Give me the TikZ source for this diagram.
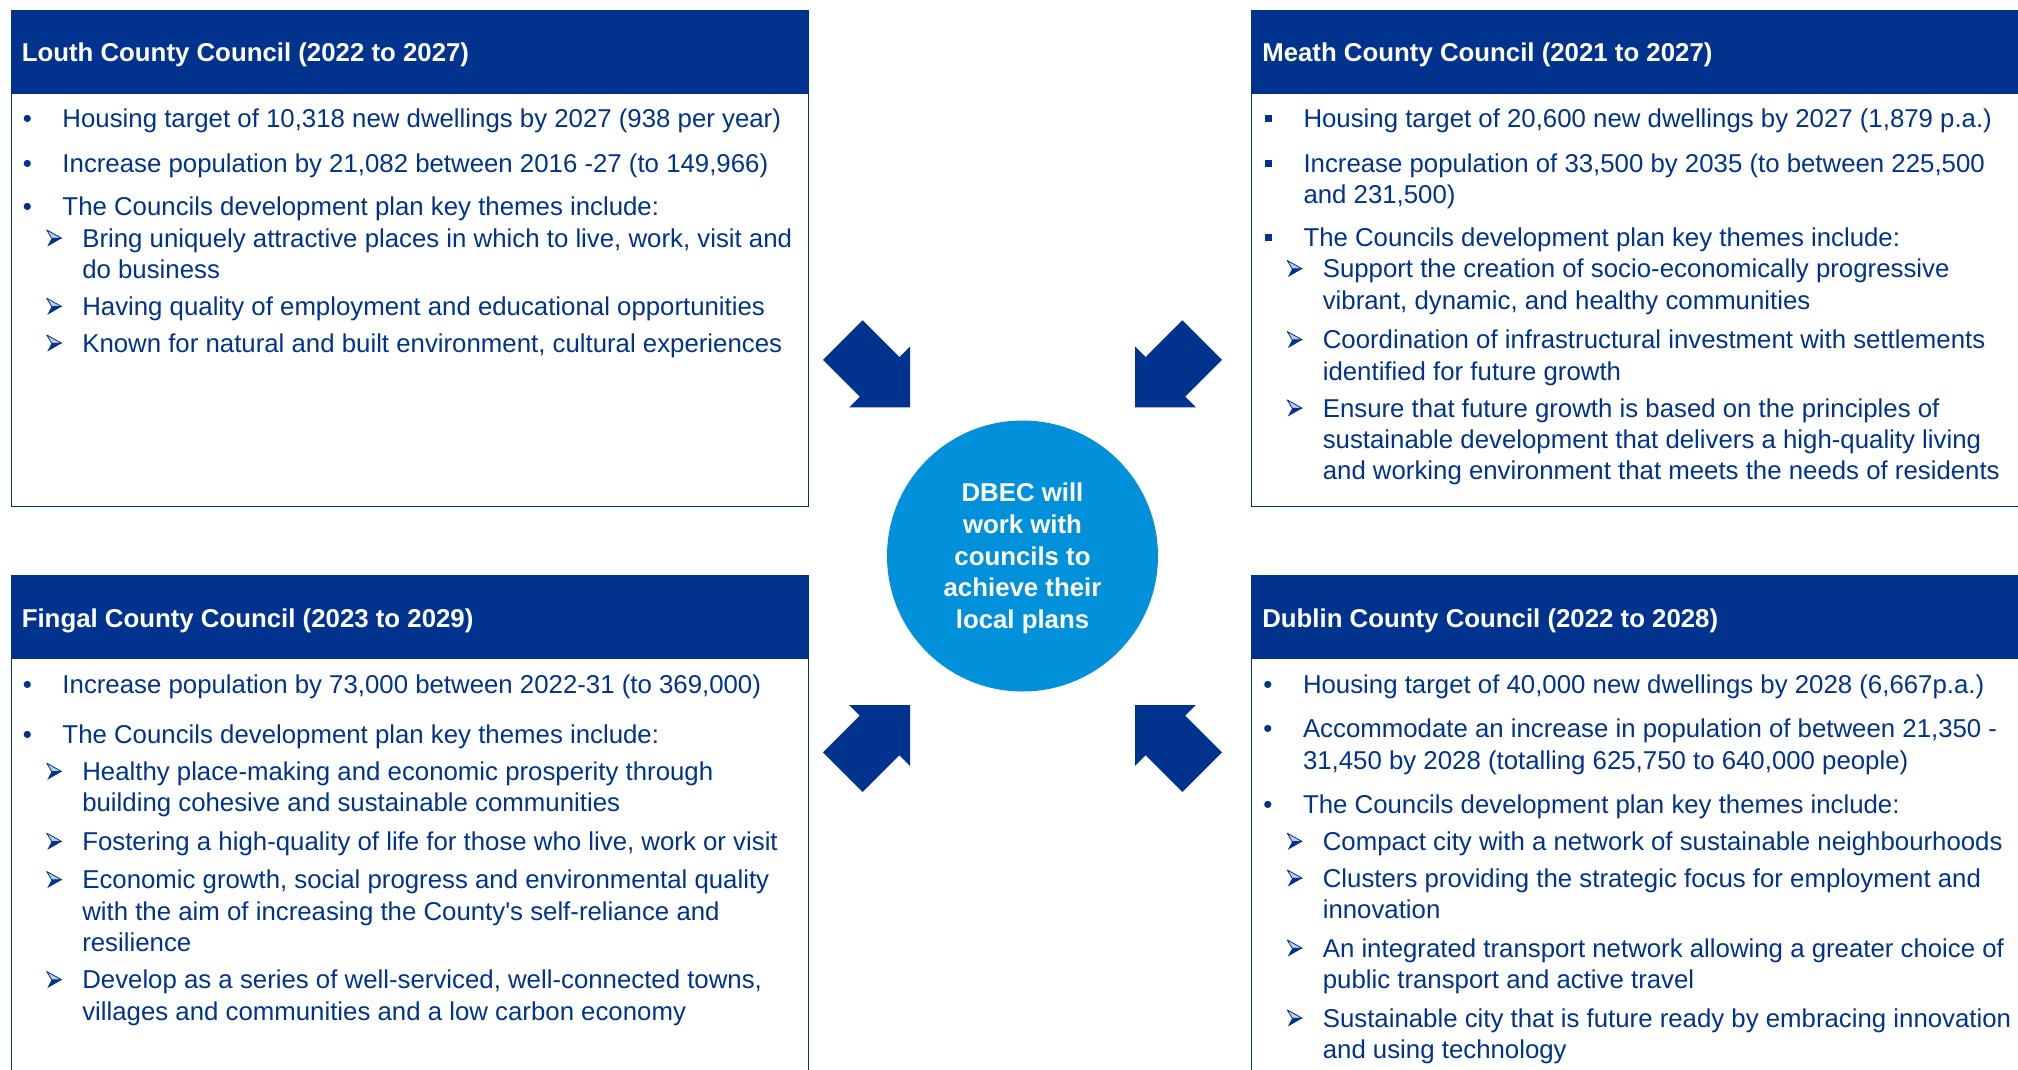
\documentclass[tikz,border=0pt]{standalone}
\usepackage{fontspec}
\setmainfont{Liberation Sans}
\definecolor{kpmgnavy}{HTML}{00338D}
\definecolor{kpmglight}{HTML}{0091DA}
\tikzset{
  panel/.style={draw=kpmgnavy, line width=1.3pt, fill=white, anchor=north west, inner sep=0pt},
  hdrbar/.style={fill=kpmgnavy, anchor=north west, inner sep=0pt},
  hdrtext/.style={anchor=base west, inner sep=0pt, text=white, font=\bfseries\fontsize{25.8}{31.3}\selectfont},
  bodytext/.style={anchor=base west, inner sep=0pt, text=kpmgnavy, font=\fontsize{25.8}{31.3}\selectfont},
  bigarrow/.style={fill=kpmgnavy},
  hub/.style={circle, fill=kpmglight, minimum size=271pt, inner sep=0pt},
  hubtext/.style={anchor=base, inner sep=0pt, text=white, font=\bfseries\fontsize{25.8}{31.7}\selectfont},
}
\newcommand\sqbul{\raisebox{5pt}{\rule{7.5pt}{7.5pt}}}
% level-one item: name, x, baseline, bullet, lines
\newcommand\lvlone[5]{%
  \node[bodytext] (#1) at (#2,#3) {\makebox[9pt][c]{#4}\hspace{30.6pt}\begin{tabular}[t]{@{}l@{}}#5\end{tabular}};}
% sub-arrow glyph drawn as shape
\newcommand\subarrow[2]{%
  \begin{scope}[shift={(#1,#2)}]
    \filldraw[draw=kpmgnavy, fill=kpmgnavy!25, line width=0.8pt, line join=round] (0,-17.3) -- (15,-9) -- (5,-9) -- cycle;
    \fill[kpmgnavy] (5,-9) -- (15,-9) -- (0.6,-0.7) -- cycle;
  \end{scope}}
% level-two item: name, x of arrow, baseline, lines
\newcommand\lvltwo[4]{%
  \node[bodytext] (#1) at (#2+35.4,#3) {\begin{tabular}[t]{@{}l@{}}#4\end{tabular}};
  \subarrow{#2}{#3}}
% big block arrow: tip x, tip y, x sign, y sign
\newcommand\bigarr[4]{%
  \fill[bigarrow, shift={(#1,#2)}, xscale=#3, yscale=#4]
    (0,0) -- (0,-60.8) -- (-10.6,-50.2) -- (-47.4,-87) -- (-87,-47.4) -- (-50.2,-10.6) -- (-60.8,0) -- cycle;}
\begin{document}
\begin{tikzpicture}[x=1pt,y=-1pt]
\useasboundingbox (0,0) rectangle (2018,1069);
\clip (0,0) rectangle (2018,1069);
\fill[white] (0,0) rectangle (2018,1069);

% ---------- Louth ----------
\node[panel, minimum width=797.5pt, minimum height=496pt] (louth) at (10.5,10) {};
\node[hdrbar, minimum width=797.5pt, minimum height=83.3pt] (louthhead) at (10.5,10) {};
\node[hdrtext] (louthtitle) at (21.6,61) {Louth County Council (2022 to 2027)};
\lvlone{l1}{22.7}{127.3}{•}{Housing target of 10,318 new dwellings by 2027 (938 per year)}
\lvlone{l2}{22.7}{172.2}{•}{Increase population by 21,082 between 2016 -27 (to 149,966)}
\lvlone{l3}{22.7}{215.5}{•}{The Councils development plan key themes include:}
\lvltwo{l4}{46.7}{247.2}{Bring uniquely attractive places in which to live, work, visit and\\do business}
\lvltwo{l5}{46.7}{315.5}{Having quality of employment and educational opportunities}
\lvltwo{l6}{46.7}{352.2}{Known for natural and built environment, cultural experiences}

% ---------- Meath ----------
\node[panel, minimum width=790pt, minimum height=496pt] (meath) at (1251,10) {};
\node[hdrbar, minimum width=790pt, minimum height=83.3pt] (meathhead) at (1251,10) {};
\node[hdrtext] (meathtitle) at (1262.1,61) {Meath County Council (2021 to 2027)};
\lvlone{m1}{1263.7}{127.3}{\sqbul}{Housing target of 20,600 new dwellings by 2027 (1,879 p.a.)}
\lvlone{m2}{1263.7}{172.2}{\sqbul}{Increase population of 33,500 by 2035 (to between 225,500\\and 231,500)}
\lvlone{m3}{1263.7}{246.2}{\sqbul}{The Councils development plan key themes include:}
\lvltwo{m4}{1287.2}{277.8}{Support the creation of socio-economically progressive\\vibrant, dynamic, and healthy communities}
\lvltwo{m5}{1287.2}{348.8}{Coordination of infrastructural investment with settlements\\identified for future growth}
\lvltwo{m6}{1287.2}{417.2}{Ensure that future growth is based on the principles of\\sustainable development that delivers a high-quality living\\and working environment that meets the needs of residents}

% ---------- Fingal ----------
\node[panel, minimum width=797.5pt, minimum height=520pt] (fingal) at (10.5,575) {};
\node[hdrbar, minimum width=797.5pt, minimum height=83.5pt] (fingalhead) at (10.5,575) {};
\node[hdrtext] (fingaltitle) at (21.6,627) {Fingal County Council (2023 to 2029)};
\lvlone{f1}{22.7}{693.8}{•}{Increase population by 73,000 between 2022-31 (to 369,000)}
\lvlone{f2}{22.7}{743.2}{•}{The Councils development plan key themes include:}
\lvltwo{f3}{46.7}{780.5}{Healthy place-making and economic prosperity through\\building cohesive and sustainable communities}
\lvltwo{f4}{46.7}{850.5}{Fostering a high-quality of life for those who live, work or visit}
\lvltwo{f5}{46.7}{888.8}{Economic growth, social progress and environmental quality\\with the aim of increasing the County\textquotesingle s self-reliance and\\resilience}
\lvltwo{f6}{46.7}{988.8}{Develop as a series of well-serviced, well-connected towns,\\villages and communities and a low carbon economy}

% ---------- Dublin ----------
\node[panel, minimum width=790pt, minimum height=520pt] (dublin) at (1251,575) {};
\node[hdrbar, minimum width=790pt, minimum height=83.5pt] (dublinhead) at (1251,575) {};
\node[hdrtext] (dublintitle) at (1262.1,627) {Dublin County Council (2022 to 2028)};
\lvlone{d1}{1263.2}{693.8}{•}{Housing target of 40,000 new dwellings by 2028 (6,667p.a.)}
\lvlone{d2}{1263.2}{737.8}{•}{Accommodate an increase in population of between 21,350 -\\31,450 by 2028 (totalling 625,750 to 640,000 people)}
\lvlone{d3}{1263.2}{813.2}{•}{The Councils development plan key themes include:}
\lvltwo{d4}{1287.2}{850.5}{Compact city with a network of sustainable neighbourhoods}
\lvltwo{d5}{1287.2}{887.2}{Clusters providing the strategic focus for employment and\\innovation}
\lvltwo{d6}{1287.2}{957.2}{An integrated transport network allowing a greater choice of\\public transport and active travel}
\lvltwo{d7}{1287.2}{1027.2}{Sustainable city that is future ready by embracing innovation\\and using technology}

% ---------- centre ----------
\node[hub] (dbec) at (1022.5,556) {};
\node[hubtext] (dbectext) at (1022.5,501.7) {\begin{tabular}[t]{@{}c@{}}DBEC will\\work with\\councils to\\achieve their\\local plans\end{tabular}};

\bigarr{910}{407.3}{1}{1}
\bigarr{1135}{407.3}{-1}{1}
\bigarr{910}{705}{1}{-1}
\bigarr{1135}{705}{-1}{-1}
\end{tikzpicture}
\end{document}
